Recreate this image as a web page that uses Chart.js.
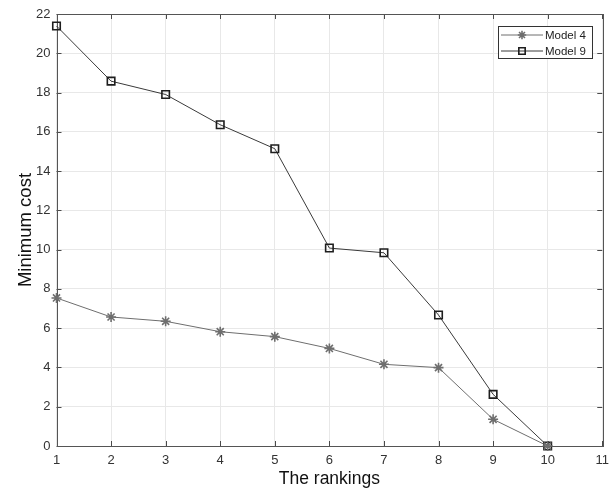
<!DOCTYPE html>
<html>
<head>
<meta charset="utf-8">
<script src="https://cdn.jsdelivr.net/npm/chart.js@4.4.0/dist/chart.umd.min.js"></script>
<style>
html,body{margin:0;padding:0;background:#fff;}
#wrap{width:616px;height:490px;position:relative;}
</style>
</head>
<body>
<div id="wrap"><canvas id="c" width="616" height="490"></canvas></div>
<script>
const rankings = [1, 2, 3, 4, 5, 6, 7, 8, 9, 10];
const model4 = [7.54, 6.57, 6.35, 5.82, 5.57, 4.97, 4.16, 3.99, 1.36, 0];
const model9 = [21.39, 18.58, 17.9, 16.36, 15.14, 10.08, 9.84, 6.67, 2.63, 0];
const seriesNames = ['Model 4', 'Model 9'];
const xTicks = [1, 2, 3, 4, 5, 6, 7, 8, 9, 10, 11];
const yTicks = [0, 2, 4, 6, 8, 10, 12, 14, 16, 18, 20, 22];

const FONT = '"Liberation Sans", Arial, Helvetica, sans-serif';
const c4 = '#6e6e6e', c9 = '#3a3a3a';

const toXY = (arr) => arr.map((v, i) => ({x: rankings[i], y: v}));

const boxPlugin = {
  id: 'boxPlugin',
  beforeDatasetsDraw(chart) {
    const {ctx, chartArea: a, scales} = chart;
    ctx.save();
    ctx.strokeStyle = '#4a4a4a';
    ctx.lineWidth = 1;
    ctx.beginPath();
    xTicks.forEach(t => {
      const px = Math.round(scales.x.getPixelForValue(t)) + 0.5;
      ctx.moveTo(px, a.bottom); ctx.lineTo(px, a.bottom - 5);
      ctx.moveTo(px, a.top); ctx.lineTo(px, a.top + 5);
    });
    yTicks.forEach(t => {
      const py = Math.round(scales.y.getPixelForValue(t)) + 0.5;
      ctx.moveTo(a.left, py); ctx.lineTo(a.left + 5, py);
      ctx.moveTo(a.right, py); ctx.lineTo(a.right - 5, py);
    });
    ctx.stroke();
    ctx.strokeStyle = '#555';
    ctx.strokeRect(Math.round(a.left) + 0.5, Math.round(a.top) + 0.5,
                   Math.round(a.right - a.left), Math.round(a.bottom - a.top));
    ctx.restore();
  },
  afterDraw(chart) {
    const {ctx} = chart;
    ctx.save();
    const lx = 498.5, ly = 26.5, lw = 94, lh = 32;
    ctx.fillStyle = '#fff';
    ctx.fillRect(lx, ly, lw, lh);
    ctx.strokeStyle = '#333';
    ctx.lineWidth = 1;
    ctx.strokeRect(lx, ly, lw, lh);
    const ds = chart.data.datasets;
    const rows = [35, 51];
    ds.forEach((d, i) => {
      const y = rows[i];
      ctx.strokeStyle = d.borderColor;
      ctx.lineWidth = 1;
      ctx.beginPath(); ctx.moveTo(501, y); ctx.lineTo(543, y); ctx.stroke();
      ctx.strokeStyle = d.pointBorderColor;
      ctx.fillStyle = 'rgba(0,0,0,0)';
      ctx.lineWidth = d.pointBorderWidth;
      Chart.helpers.drawPoint(ctx, {
        pointStyle: d.pointStyle, radius: d.pointRadius - 0.8, borderWidth: d.pointBorderWidth, rotation: 0
      }, 522, y);
      ctx.fillStyle = '#222';
      ctx.font = '11.5px ' + FONT;
      ctx.textBaseline = 'middle';
      ctx.textAlign = 'left';
      ctx.fillText(seriesNames[i], 545, y + 0.5);
    });
    ctx.restore();
  }
};

new Chart(document.getElementById('c'), {
  type: 'line',
  data: {
    datasets: [
      {
        label: seriesNames[0], data: toXY(model4),
        borderColor: c4, backgroundColor: 'rgba(0,0,0,0)',
        pointStyle: 'star', pointRadius: 5, pointBorderWidth: 1.6,
        pointBorderColor: c4, borderWidth: 1, tension: 0, clip: false
      },
      {
        label: seriesNames[1], data: toXY(model9),
        borderColor: c9, backgroundColor: 'rgba(0,0,0,0)',
        pointStyle: 'rect', pointRadius: 5.3, pointBorderWidth: 1.6,
        pointBorderColor: '#1e1e1e', borderWidth: 1, tension: 0, clip: false
      }
    ]
  },
  options: {
    responsive: false,
    animation: false,
    devicePixelRatio: 1,
    layout: {padding: {left: 15, top: 14, right: 12, bottom: 0}},
    plugins: {legend: {display: false}, tooltip: {enabled: false}},
    scales: {
      x: {
        type: 'linear', min: 1, max: 11,
        afterBuildTicks: s => { s.ticks = xTicks.map(v => ({value: v})); },
        afterFit: s => { s.height = 44; },
        grid: {color: '#e8e8e8', drawTicks: false, lineWidth: 1},
        border: {display: false},
        ticks: {color: '#333', font: {family: FONT, size: 13}, padding: 7, maxRotation: 0, autoSkip: false},
        title: {display: true, text: 'The rankings', color: '#111', font: {family: FONT, size: 17.5}, padding: {top: 0, bottom: 0}}
      },
      y: {
        type: 'linear', min: 0, max: 22,
        afterBuildTicks: s => { s.ticks = yTicks.map(v => ({value: v})); },
        afterFit: s => { s.width = 41.5; },
        grid: {color: '#e8e8e8', drawTicks: false, lineWidth: 1},
        border: {display: false},
        ticks: {color: '#333', font: {family: FONT, size: 13}, padding: 6, autoSkip: false},
        title: {display: true, text: 'Minimum cost', color: '#111', font: {family: FONT, size: 18.5}, padding: {top: 0, bottom: 0}}
      }
    }
  },
  plugins: [boxPlugin]
});
</script>
</body>
</html>
